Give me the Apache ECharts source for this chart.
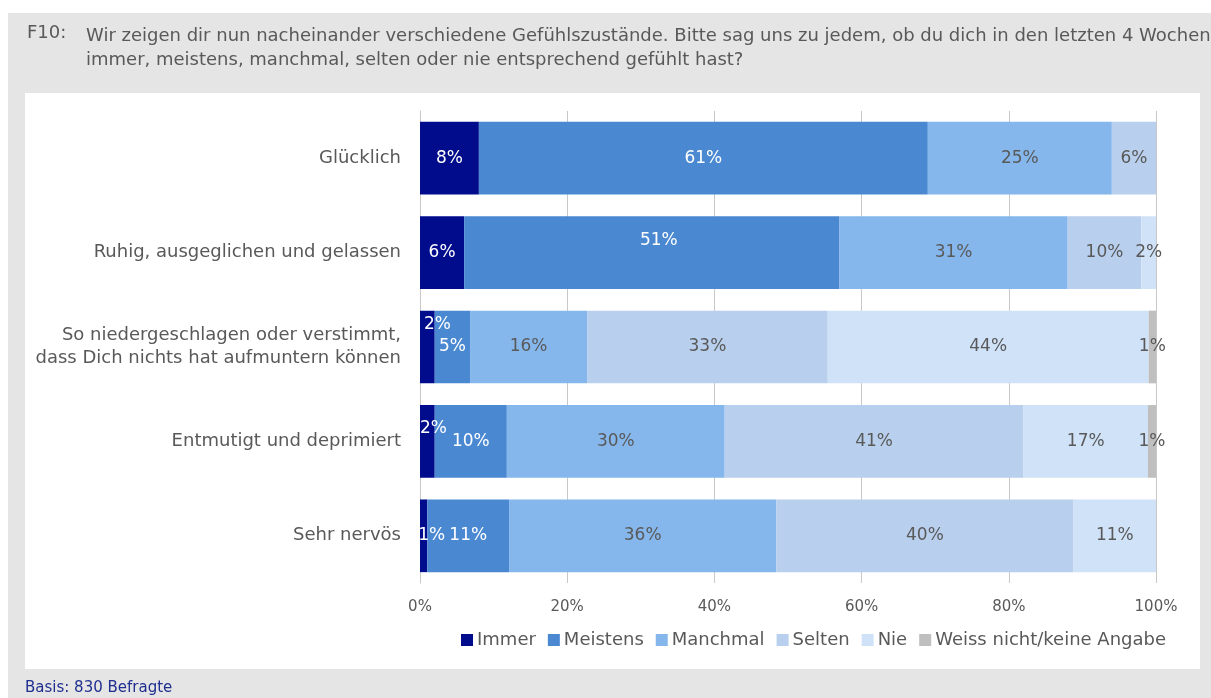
<!DOCTYPE html>
<html><head><meta charset="utf-8">
<script src="https://cdn.jsdelivr.net/npm/echarts@6/dist/echarts.min.js"></script>
<style>html,body{margin:0;padding:0;background:#fff}#c{width:1211px;height:698px}</style>
</head><body><div id="c"></div>
<script>
const categories = ["Glücklich", "Ruhig, ausgeglichen und gelassen", "So niedergeschlagen oder verstimmt,\ndass Dich nichts hat aufmuntern können", "Entmutigt und deprimiert", "Sehr nervös"];
const seriesNames = ["Immer", "Meistens", "Manchmal", "Selten", "Nie", "Weiss nicht/keine Angabe"];
const immer    = [8, 6, 2, 2, 1];
const meistens = [61, 51, 4.8, 9.8, 11.1];
const manchmal = [25, 31, 15.9, 29.6, 36.3];
const selten   = [6, 10, 32.7, 40.6, 40.4];
const nie      = [0, 2, 43.6, 16.9, 11.2];
const weiss    = [0, 0, 1.0, 1.1, 0];
const xTicks = [0, 20, 40, 60, 80, 100];

const colors = ["#000c8c", "#4a89d2", "#86b7ec", "#b8cfed", "#cfe2f7", "#bfbfbf"];
const labelColors = ["#ffffff", "#ffffff", "#595959", "#595959", "#595959", "#595959"];
const FONT = "DejaVu Sans";
const allData = [immer, meistens, manchmal, selten, nie, weiss];
// manual label nudges (series index, category index) -> offset
const nudges = {"0_2": [10, -22], "0_3": [6, -13], "1_1": [7, -12], "0_4": [8, 0]};

const series = seriesNames.map((name, si) => ({
  name: name, type: 'bar', stack: 'total', barCategoryGap: '23%',
  itemStyle: {color: colors[si]},
  data: allData[si].map((v, ci) => {
    const d = {value: v};
    const k = si + '_' + ci;
    if (nudges[k]) d.label = {offset: nudges[k]};
    return d;
  }),
  label: {
    show: true, position: 'inside', color: labelColors[si],
    fontFamily: FONT, fontSize: 17,
    formatter: p => p.value > 0 ? Math.round(p.value) + '%' : ''
  }
}));

const chart = echarts.init(document.getElementById('c'));
chart.setOption({
  backgroundColor: '#ffffff',
  animation: false,
  textStyle: {fontFamily: FONT},
  graphic: [
    {type: 'rect', shape: {x: 8, y: 13, width: 1203, height: 685}, style: {fill: '#e5e5e5'}, z: 0},
    {type: 'rect', shape: {x: 25, y: 93, width: 1175, height: 576}, style: {fill: '#ffffff'}, z: 0},
    {type: 'text', x: 27, y: 24, style: {text: 'F10:', fill: '#595959', font: '18px "' + FONT + '"'}, z: 1},
    {type: 'text', x: 86, y: 24, style: {text: 'Wir zeigen dir nun nacheinander verschiedene Gefühlszustände. Bitte sag uns zu jedem, ob du dich in den letzten 4 Wochen\nimmer, meistens, manchmal, selten oder nie entsprechend gefühlt hast?', fill: '#595959', font: '18px "' + FONT + '"', lineHeight: 24}, z: 1},
    {type: 'text', x: 25, y: 681, style: {text: 'Basis: 830 Befragte', fill: '#1f2f8f', font: '15px "' + FONT + '"'}, z: 1}
  ],
  legend: {
    data: seriesNames, bottom: 44, left: 456, itemWidth: 12, itemHeight: 12, itemGap: 12,
    icon: 'rect',
    textStyle: {color: '#595959', fontSize: 18, fontFamily: FONT, padding: [0, 0, 0, -1]}
  },
  grid: {left: 420, right: 55, top: 111, bottom: 115, containLabel: false},
  xAxis: {
    type: 'value', min: 0, max: 100, interval: 20,
    axisLine: {show: false}, axisTick: {show: false},
    splitLine: {lineStyle: {color: '#c8c8c8', width: 1}},
    axisLabel: {formatter: v => xTicks.includes(v) ? v + '%' : '', color: '#595959', fontSize: 15, fontFamily: FONT, margin: 17}
  },
  yAxis: {
    type: 'category', inverse: true, data: categories,
    axisLine: {lineStyle: {color: '#c8c8c8', width: 1}}, axisTick: {show: false},
    axisLabel: {color: '#595959', fontSize: 18, fontFamily: FONT, margin: 19, align: 'right', lineHeight: 23}
  },
  series: series
});
</script></body></html>
